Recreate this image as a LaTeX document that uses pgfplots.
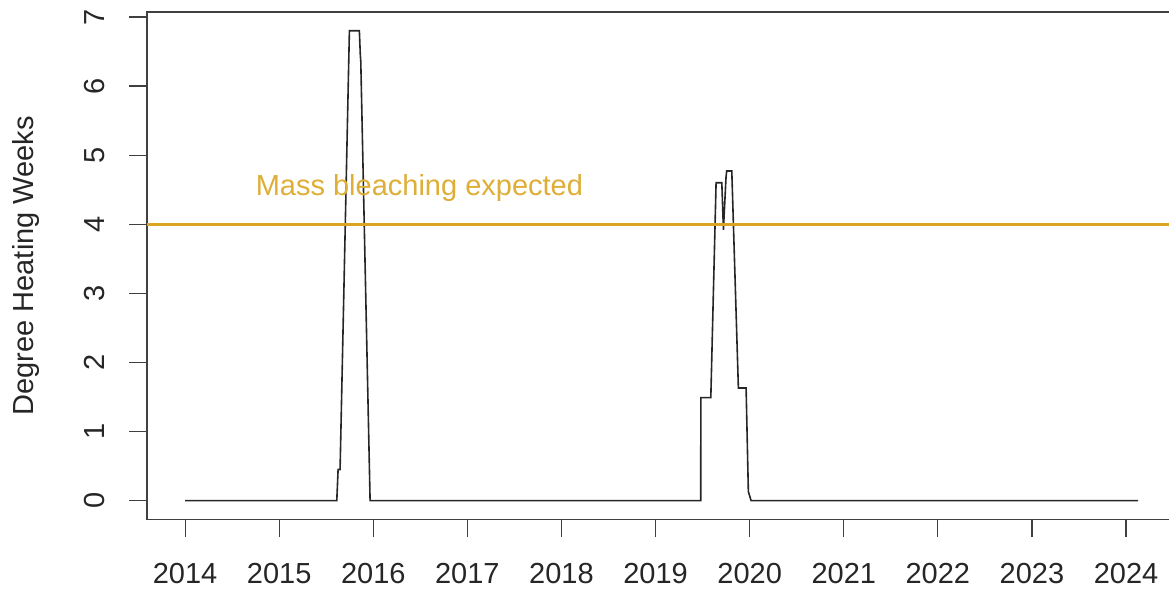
\documentclass[border=0pt]{standalone}
\usepackage{pgfplots}
\pgfplotsset{compat=1.18}
\usepackage{fontspec}
\setmainfont{Liberation Sans}
\definecolor{gold}{HTML}{DAA520}
\begin{document}
\fontsize{14.5pt}{16pt}\selectfont
\begin{tikzpicture}
\begin{axis}[
  name=ax,
  scale only axis,
  width=514.7pt, height=253.7pt,
  xmin=2013.595, xmax=2024.535,
  ymin=-0.272, ymax=7.072,
  axis line style={black!75, line width=0.6pt},
  xtick={2014,2015,...,2024},
  ytick={0,1,...,7},
  xticklabel style={/pgf/number format/1000 sep={}},
  /pgf/number format/assume math mode=true,
  tick style={black!75, line width=0.6pt},
  tick align=outside,
  major tick length=9pt,
  xtick pos=bottom, ytick pos=left,
  xticklabel shift=8pt,
  yticklabel style={rotate=90, anchor=south, yshift=7pt},
  ylabel={Degree Heating Weeks},
  ylabel style={yshift=12.5pt},
  ticklabel style={font=\fontsize{14.5pt}{16pt}\selectfont, text=black!85},
  label style={font=\fontsize{14.5pt}{16pt}\selectfont, text=black!85},
  clip=false,
]
\addplot[black!85, line width=0.8pt] coordinates {
  (2014.0,0) (2015.612,0) (2015.626,0.45) (2015.647,0.45)
  (2015.746,6.8) (2015.852,6.8) (2015.862,6.45) (2015.867,6.36)
  (2015.966,0) (2019.480,0) (2019.481,1.49) (2019.587,1.49)
  (2019.643,4.60) (2019.704,4.60) (2019.721,3.92) (2019.749,4.69)
  (2019.756,4.77) (2019.810,4.77) (2019.880,1.63) (2019.962,1.63)
  (2019.986,0.13) (2020.015,0) (2024.127,0)
};
\addplot[gold, line width=1.4pt] coordinates {(2013.595,4) (2024.535,4)};
\node[text=gold!90, font=\fontsize{14.5pt}{16pt}\selectfont] at (axis cs:2016.49,4.53) {Mass bleaching expected};
\end{axis}
\pgfresetboundingbox
\path[use as bounding box] ([xshift=-73.5pt,yshift=-34.5pt]ax.south west) rectangle ([xshift=511pt,yshift=259.7pt]ax.south west);
\end{tikzpicture}
\end{document}
